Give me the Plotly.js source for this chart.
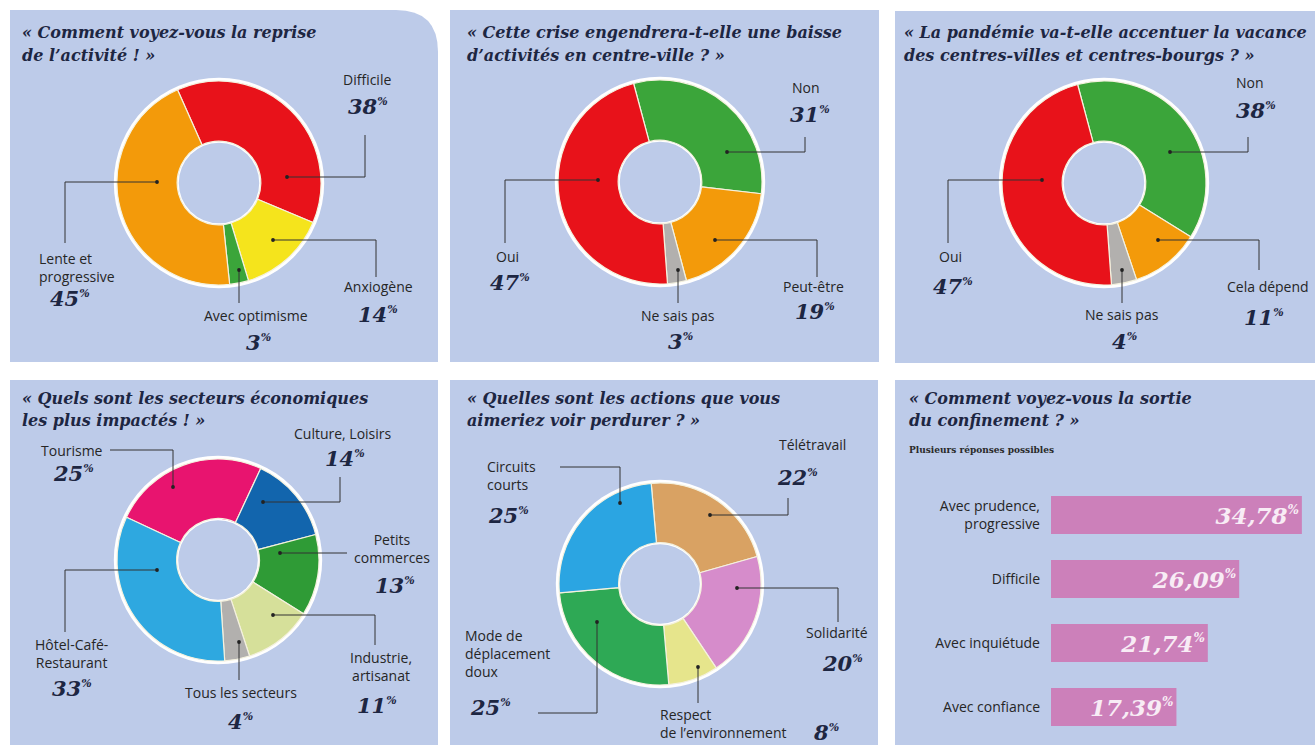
<!DOCTYPE html>
<html><head><meta charset="utf-8">
<script src="https://cdn.plot.ly/plotly-3.0.1.min.js"></script>
<style>html,body{margin:0;padding:0;background:#fff;overflow:hidden}</style>
</head><body><div id="chart" style="width:1315px;height:745px"></div>
<script>
// ================= DATA =================
const repriseTitle = ['« Comment voyez-vous la reprise', 'de l\u2019activité ! »'];
const repriseLabels = ['Difficile', 'Anxiogène', 'Avec optimisme', 'Lente et<br>progressive'];
const repriseValues = [38, 14, 3, 45];

const baisseTitle = ['« Cette crise engendrera-t-elle une baisse', 'd\u2019activités en centre-ville ? »'];
const baisseLabels = ['Non', 'Peut-être', 'Ne sais pas', 'Oui'];
const baisseValues = [31, 19, 3, 47];

const vacanceTitle = ['« La pandémie va-t-elle accentuer la vacance', 'des centres-villes et centres-bourgs ? »'];
const vacanceLabels = ['Non', 'Cela dépend', 'Ne sais pas', 'Oui'];
const vacanceValues = [38, 11, 4, 47];

const secteursTitle = ['« Quels sont les secteurs économiques', 'les plus impactés ! »'];
const secteursLabels = ['Tourisme', 'Culture, Loisirs', 'Petits<br>commerces', 'Industrie,<br>artisanat', 'Tous les secteurs', 'Hôtel-Café-<br>Restaurant'];
const secteursValues = [25, 14, 13, 11, 4, 33];

const actionsTitle = ['« Quelles sont les actions que vous', 'aimeriez voir perdurer ? »'];
const actionsLabels = ['Télétravail', 'Solidarité', 'Respect<br>de l\u2019environnement', 'Mode de<br>déplacement<br>doux', 'Circuits<br>courts'];
const actionsValues = [22, 20, 8, 25, 25];

const sortieTitle = ['« Comment voyez-vous la sortie', 'du confinement ? »'];
const sortieSubtitle = 'Plusieurs réponses possibles';
const sortieLabels = ['Avec prudence,<br>progressive', 'Difficile', 'Avec inquiétude', 'Avec confiance'];
const sortieValues = [34.78, 26.09, 21.74, 17.39];

// ================= STYLE / LAYOUT =================
const W = 1315, H = 745;
const px = x => x / W, py = y => 1 - y / H;
const SERIF = '"DejaVu Serif", serif';
const SANS = '"Open Sans", Roboto, sans-serif';
const INK = '#1d2642';
const PANEL = '#bdcbe9';
const HOLE = 0.41;

const RED = '#e8121a', ORANGE = '#f39a0a', YELLOW = '#f5e41c', GREEN = '#3ba53a', GRAY = '#b2b0ae';

const pies = [
  {values: repriseValues, labels: repriseLabels, title: repriseTitle, tx: 20, ty: 33,
   colors: [RED, YELLOW, GREEN, ORANGE], cx: 219, cy: 183, R: 102, rot: -24,
   pos: [
     {n: [367, 80, 'center'], v: [368, 107], lead: [[287, 177], [365, 177], [365, 135]]},
     {n: [378, 287, 'center'], v: [378, 314], lead: [[273, 240], [376, 240], [376, 277]]},
     {n: [256, 316, 'center'], v: [258, 343], lead: [[239, 270], [239, 303]]},
     {n: [37, 267, 'left'], v: [70, 298], lead: [[157, 182], [65, 182], [65, 243]]}
   ]},
  {values: baisseValues, labels: baisseLabels, title: baisseTitle, tx: 465, ty: 33,
   colors: [GREEN, ORANGE, GRAY, RED], cx: 660, cy: 182, R: 102, rot: -15,
   pos: [
     {n: [806, 88, 'center'], v: [810, 114], lead: [[727, 152], [805, 152], [805, 137]]},
     {n: [813, 287, 'center'], v: [815, 311], lead: [[715, 240], [817, 240], [817, 277]]},
     {n: [678, 316, 'center'], v: [680, 342], lead: [[678, 270], [678, 303]]},
     {n: [507, 256, 'center'], v: [510, 282], lead: [[598, 180], [505, 180], [505, 243]]}
   ]},
  {values: vacanceValues, labels: vacanceLabels, title: vacanceTitle, tx: 902, ty: 33,
   colors: [GREEN, ORANGE, GRAY, RED], cx: 1104, cy: 183, R: 102, rot: -15,
   pos: [
     {n: [1250, 82, 'center'], v: [1256, 110], lead: [[1170, 152], [1248, 152], [1248, 137]]},
     {n: [1268, 287, 'center'], v: [1264, 317], lead: [[1158, 240], [1259, 240], [1259, 270]]},
     {n: [1122, 315, 'center'], v: [1124, 342], lead: [[1122, 270], [1122, 303]]},
     {n: [950, 256, 'center'], v: [953, 286], lead: [[1042, 180], [948, 180], [948, 243]]}
   ]},
  {values: secteursValues, labels: secteursLabels, title: secteursTitle, tx: 20, ty: 398,
   colors: ['#e8146f', '#1265ad', '#2f9b36', '#d6e09a', GRAY, '#2ea8e0'], cx: 218, cy: 560, R: 101, rot: -65,
   pos: [
     {n: [72, 450, 'center'], v: [73, 473], lead: [[173, 487], [173, 450], [110, 450]]},
     {n: [343, 433, 'center'], v: [345, 458], lead: [[263, 502], [340, 502], [340, 477]]},
     {n: [392, 548, 'center'], v: [395, 585], lead: [[280, 553], [347, 553]]},
     {n: [381, 666, 'center'], v: [377, 705], lead: [[273, 615], [375, 615], [375, 645]]},
     {n: [241, 692, 'center'], v: [240, 721], lead: [[239, 642], [239, 680]]},
     {n: [71, 653, 'center'], v: [72, 688], lead: [[157, 570], [65, 570], [65, 632]]}
   ]},
  {values: actionsValues, labels: actionsLabels, title: actionsTitle, tx: 465, ty: 398,
   colors: ['#d9a263', '#d68ccb', '#e6e58c', '#2ea955', '#2ba5e2'], cx: 660, cy: 584, R: 101, rot: -5,
   pos: [
     {n: [812, 444, 'center'], v: [797, 477], lead: [[710, 515], [788, 515], [788, 498]]},
     {n: [837, 632, 'center'], v: [842, 663], lead: [[737, 588], [838, 588], [838, 622]]},
     {n: [658, 723, 'left'], v: [826, 732], lead: [[698, 667], [698, 703]]},
     {n: [463, 653, 'left'], v: [490, 707], lead: [[597, 622], [597, 713], [538, 713]]},
     {n: [485, 475, 'left'], v: [508, 515], lead: [[620, 503], [620, 467], [560, 467]]}
   ]}
];

const shapes = [];
const annotations = [];
const traces = [];
const pct = size => '<sup><span style="font-size:' + size + 'px">%</span></sup>';

function pathOf(pts, close) {
  return 'M ' + pts.map(p => px(p[0]) + ',' + py(p[1])).join(' L ') + (close ? ' Z' : '');
}
function rectPanel(x0, y0, x1, y1) {
  shapes.push({type: 'rect', xref: 'paper', yref: 'paper', layer: 'below',
    x0: px(x0), x1: px(x1), y0: py(y1), y1: py(y0), fillcolor: PANEL, line: {width: 0}});
}
// panel 1 with rounded top-right corner
shapes.push({type: 'path', xref: 'paper', yref: 'paper', layer: 'below', fillcolor: PANEL, line: {width: 0},
  path: 'M ' + px(10) + ',' + py(10) + ' L ' + px(396) + ',' + py(10) +
        ' Q ' + px(438) + ',' + py(10) + ' ' + px(438) + ',' + py(52) +
        ' L ' + px(438) + ',' + py(362) + ' L ' + px(10) + ',' + py(362) + ' Z'});
rectPanel(450, 10, 879, 362);
rectPanel(895, 11, 1320, 363);
rectPanel(10, 380, 438, 750);
rectPanel(450, 380, 878, 750);
rectPanel(895, 380, 1320, 750);

function circle(cx, cy, r, color, layer) {
  shapes.push({type: 'circle', xref: 'paper', yref: 'paper', layer: layer || 'below',
    x0: px(cx - r), x1: px(cx + r), y0: py(cy + r), y1: py(cy - r), fillcolor: color, line: {width: 0}});
}

function titleLines(lines, x, y) {
  lines.forEach((t, i) => annotations.push({xref: 'paper', yref: 'paper', x: px(x), y: py(y + i * 22),
    xanchor: 'left', yanchor: 'middle', showarrow: false, text: t,
    font: {family: SERIF, size: 16, color: INK, weight: 'bold', style: 'italic'}}));
}

pies.forEach(p => {
  circle(p.cx, p.cy, p.R + 3.2, '#ffffff');
  circle(p.cx, p.cy, p.R * HOLE - 1.6, PANEL);
  traces.push({type: 'pie', values: p.values, labels: p.labels, sort: false, direction: 'clockwise',
    rotation: p.rot, hole: HOLE, textinfo: 'none', hoverinfo: 'none', showlegend: false,
    marker: {colors: p.colors, line: {color: '#f4f1de', width: 1.2}},
    domain: {x: [px(p.cx - p.R), px(p.cx + p.R)], y: [py(p.cy + p.R), py(p.cy - p.R)]}});
  titleLines(p.title, p.tx, p.ty);
  p.labels.forEach((lab, i) => {
    const q = p.pos[i];
    annotations.push({xref: 'paper', yref: 'paper', x: px(q.n[0]), y: py(q.n[1]),
      xanchor: q.n[2], yanchor: 'middle', align: q.n[2], showarrow: false, text: lab,
      font: {family: SANS, size: 14, color: '#262626'}});
    annotations.push({xref: 'paper', yref: 'paper', x: px(q.v[0]), y: py(q.v[1]),
      xanchor: 'center', yanchor: 'middle', showarrow: false, text: p.values[i] + pct(11),
      font: {family: SERIF, size: 21, color: INK, weight: 'bold', style: 'italic'}});
    shapes.push({type: 'path', xref: 'paper', yref: 'paper', layer: 'above', path: pathOf(q.lead, false),
      line: {color: '#333333', width: 1}});
    const d = q.lead[0];
    circle(d[0], d[1], 1.9, '#222222', 'above');
  });
});

// bar panel
titleLines(sortieTitle, 907, 398);
annotations.push({xref: 'paper', yref: 'paper', x: px(907), y: py(450), xanchor: 'left', yanchor: 'middle',
  showarrow: false, text: sortieSubtitle, font: {family: SERIF, size: 9, color: '#2a2a2a', weight: 'bold'}});

traces.push({type: 'bar', orientation: 'h', x: sortieValues, y: sortieLabels,
  marker: {color: '#cc80ba'}, hoverinfo: 'none', showlegend: false,
  text: sortieValues.map(v => v.toFixed(2).replace('.', ',') + pct(12)),
  textposition: 'inside', insidetextanchor: 'end', constraintext: 'none',
  textfont: {family: SERIF, size: 23, color: '#f8ecf5', weight: 'bold', style: 'italic'}});

const layout = {
  width: W, height: H, autosize: false,
  margin: {l: 0, r: 0, t: 0, b: 0, pad: 0},
  paper_bgcolor: '#ffffff', plot_bgcolor: 'rgba(0,0,0,0)',
  bargap: 0.406,
  xaxis: {domain: [px(1051), 1], range: [0, 36.6], visible: false, fixedrange: true},
  yaxis: {domain: [py(739), py(483)], type: 'category', autorange: 'reversed', showgrid: false,
    zeroline: false, showline: false, ticks: '', ticklabelstandoff: 10, fixedrange: true,
    tickfont: {family: SANS, size: 14, color: '#262626'}},
  shapes: shapes, annotations: annotations
};

Plotly.newPlot('chart', traces, layout, {staticPlot: true, displayModeBar: false});
</script></body></html>
